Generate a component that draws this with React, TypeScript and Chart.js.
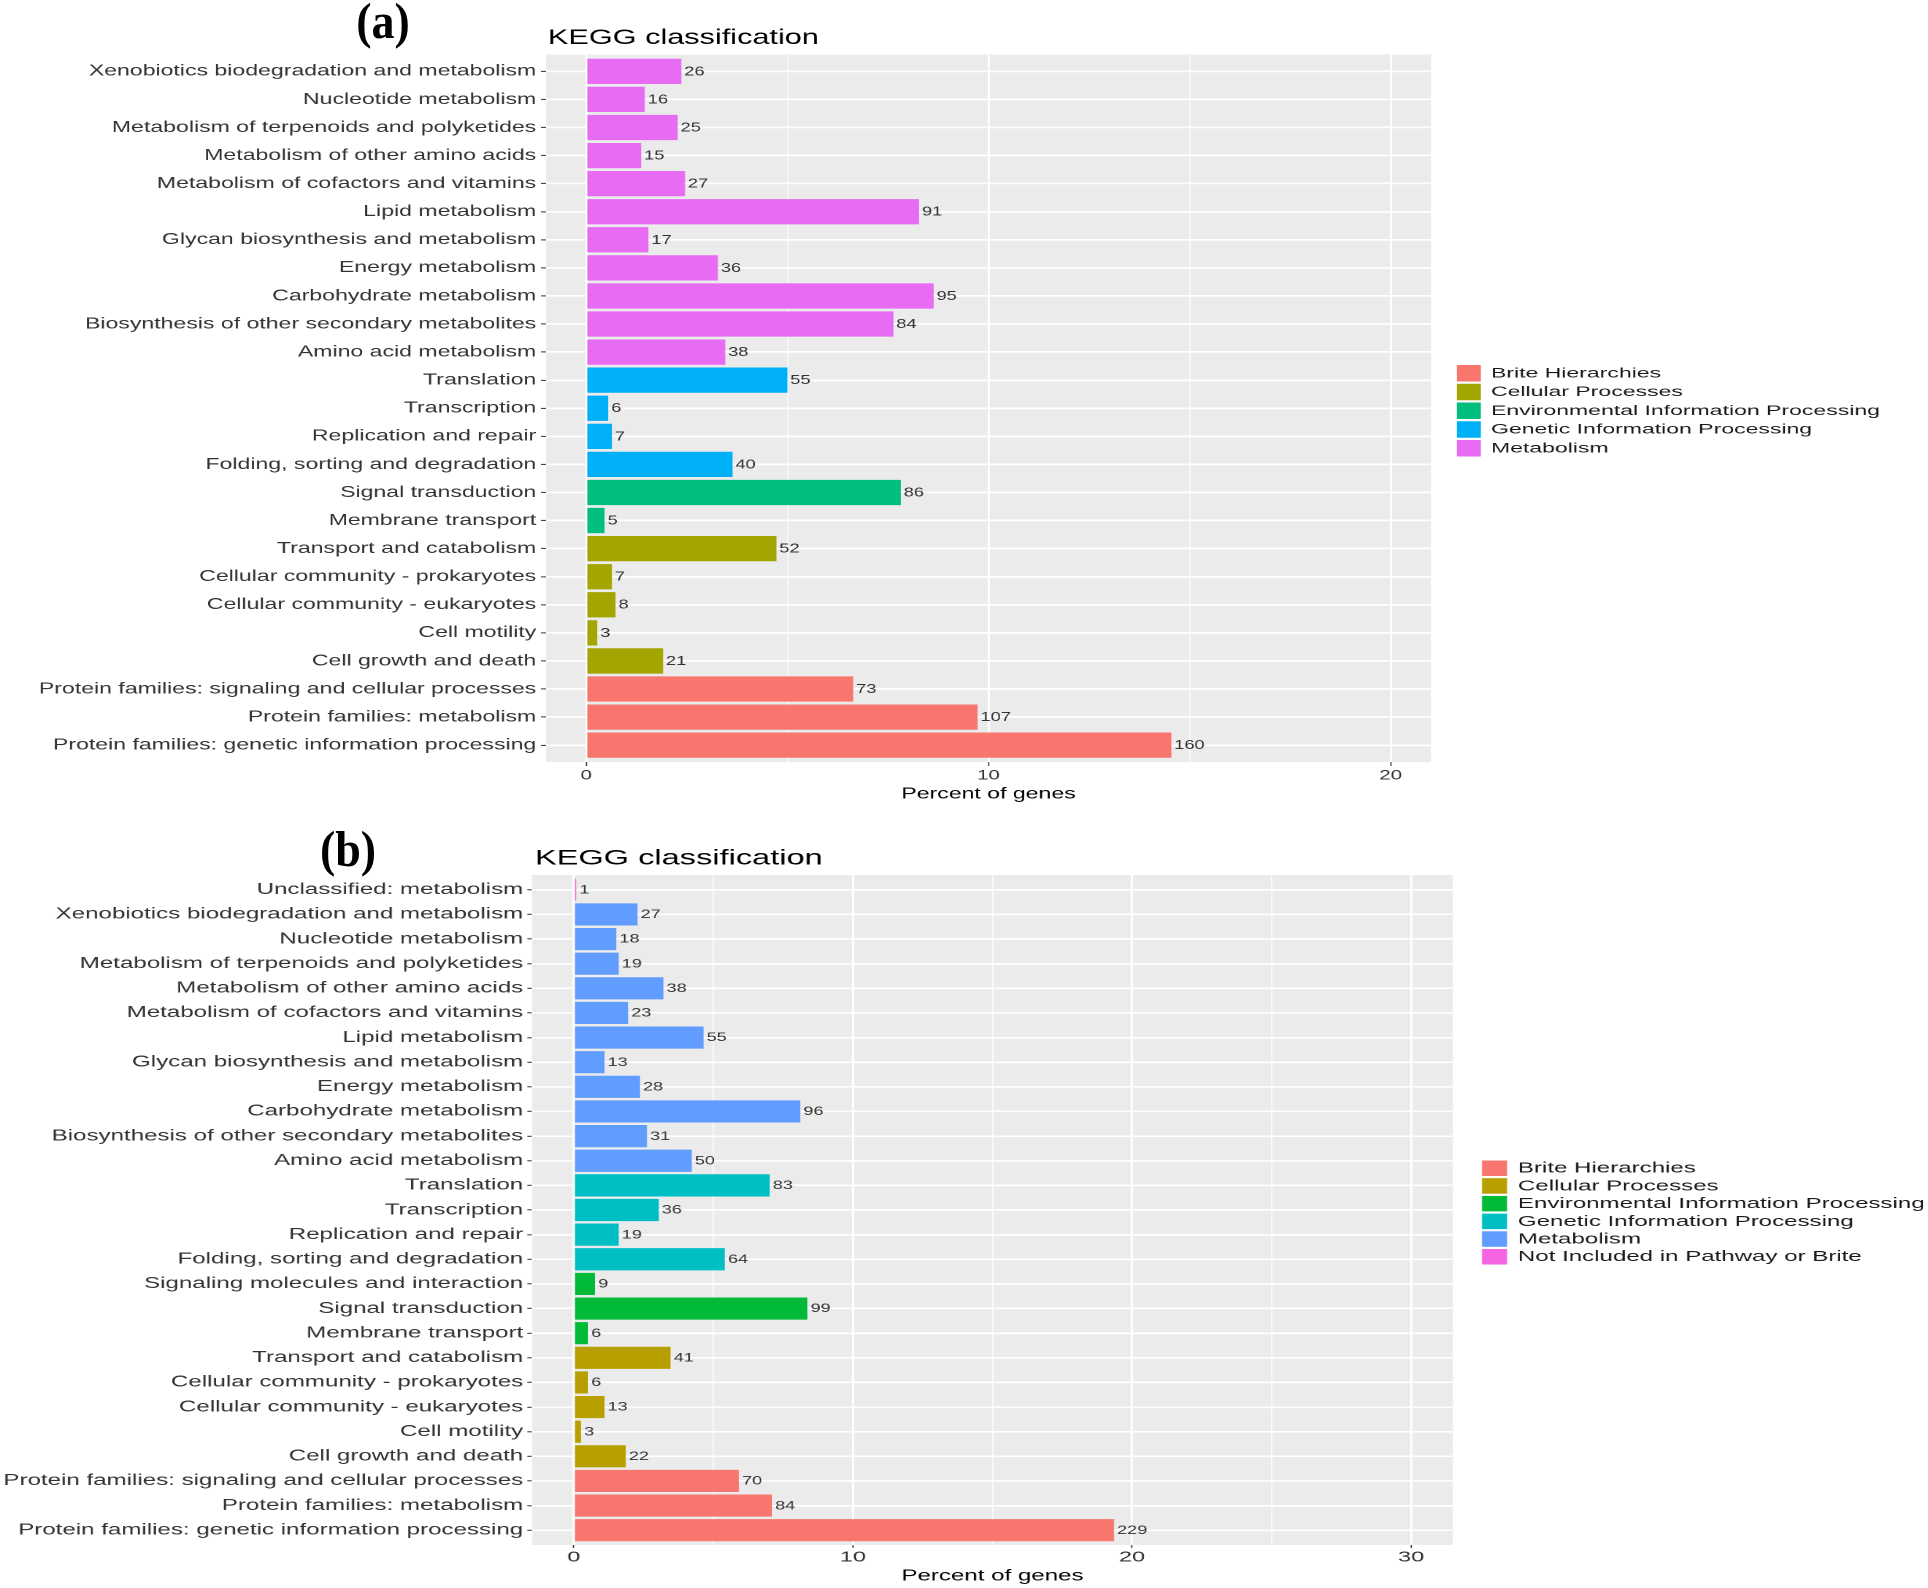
import React, { useEffect, useRef } from 'react';
import { Chart, registerables } from 'chart.js';

Chart.register(...registerables);

const FONT = '"Liberation Sans", Arial, Helvetica, sans-serif';

// ---------------- Panel (a) data ----------------
const categoriesA = [
  'Xenobiotics biodegradation and metabolism',
  'Nucleotide metabolism',
  'Metabolism of terpenoids and polyketides',
  'Metabolism of other amino acids',
  'Metabolism of cofactors and vitamins',
  'Lipid metabolism',
  'Glycan biosynthesis and metabolism',
  'Energy metabolism',
  'Carbohydrate metabolism',
  'Biosynthesis of other secondary metabolites',
  'Amino acid metabolism',
  'Translation',
  'Transcription',
  'Replication and repair',
  'Folding, sorting and degradation',
  'Signal transduction',
  'Membrane transport',
  'Transport and catabolism',
  'Cellular community - prokaryotes',
  'Cellular community - eukaryotes',
  'Cell motility',
  'Cell growth and death',
  'Protein families: signaling and cellular processes',
  'Protein families: metabolism',
  'Protein families: genetic information processing',
];
const countsA = [26, 16, 25, 15, 27, 91, 17, 36, 95, 84, 38, 55, 6, 7, 40, 86, 5, 52, 7, 8, 3, 21, 73, 107, 160];
const groupOfA = ['M', 'M', 'M', 'M', 'M', 'M', 'M', 'M', 'M', 'M', 'M', 'G', 'G', 'G', 'G', 'E', 'E', 'C', 'C', 'C', 'C', 'C', 'B', 'B', 'B'];
const groupKeysA = ['B', 'C', 'E', 'G', 'M'];
const groupNamesA = [
  'Brite Hierarchies',
  'Cellular Processes',
  'Environmental Information Processing',
  'Genetic Information Processing',
  'Metabolism',
];
const colorsA = ['#F8766D', '#A3A500', '#00BF7D', '#00B0F6', '#E76BF3'];
const xTickLabelsA = [0, 10, 20];

// ---------------- Panel (b) data ----------------
const categoriesB = [
  'Unclassified: metabolism',
  'Xenobiotics biodegradation and metabolism',
  'Nucleotide metabolism',
  'Metabolism of terpenoids and polyketides',
  'Metabolism of other amino acids',
  'Metabolism of cofactors and vitamins',
  'Lipid metabolism',
  'Glycan biosynthesis and metabolism',
  'Energy metabolism',
  'Carbohydrate metabolism',
  'Biosynthesis of other secondary metabolites',
  'Amino acid metabolism',
  'Translation',
  'Transcription',
  'Replication and repair',
  'Folding, sorting and degradation',
  'Signaling molecules and interaction',
  'Signal transduction',
  'Membrane transport',
  'Transport and catabolism',
  'Cellular community - prokaryotes',
  'Cellular community - eukaryotes',
  'Cell motility',
  'Cell growth and death',
  'Protein families: signaling and cellular processes',
  'Protein families: metabolism',
  'Protein families: genetic information processing',
];
const countsB = [1, 27, 18, 19, 38, 23, 55, 13, 28, 96, 31, 50, 83, 36, 19, 64, 9, 99, 6, 41, 6, 13, 3, 22, 70, 84, 229];
const groupOfB = ['N', 'M', 'M', 'M', 'M', 'M', 'M', 'M', 'M', 'M', 'M', 'M', 'G', 'G', 'G', 'G', 'E', 'E', 'E', 'C', 'C', 'C', 'C', 'C', 'B', 'B', 'B'];
const groupKeysB = ['B', 'C', 'E', 'G', 'M', 'N'];
const groupNamesB = [
  'Brite Hierarchies',
  'Cellular Processes',
  'Environmental Information Processing',
  'Genetic Information Processing',
  'Metabolism',
  'Not Included in Pathway or Brite',
];
const colorsB = ['#F8766D', '#B79F00', '#00BA38', '#00BFC4', '#619CFF', '#F564E3'];
const xTickLabelsB = [0, 10, 20, 30];

const TITLE = 'KEGG classification';
const X_TITLE = 'Percent of genes';

type PanelData = {
  categories: string[];
  counts: number[];
  groupOf: string[];
  groupKeys: string[];
  groupNames: string[];
  colors: string[];
  xTickLabels: number[];
};

type PanelLayout = {
  stretch: number;
  pageTop: number;
  width: number;
  height: number;
  areaLeft: number;
  areaTop: number;
  areaRight: number;
  areaBottom: number;
  xMin: number;
  xMax: number;
  yFont: number;
  yTickLen: number;
  yPad: number;
  gridY: number;
  xFont: number;
  xTickLen: number;
  xPad: number;
  xTitleFont: number;
  xTitlePadB: number;
  titleFont: number;
  titleDx: number;
  titleY: number;
  legendDx: number;
  swatchW: number;
  swatchH: number;
  legendTextDx: number;
  legendSpacing: number;
  legendDy: number;
  legendFont: number;
  legendStretch: number;
  valueFont: number;
  label: string;
  labelX: number;
  labelY: number;
};

const layoutA: PanelLayout = {
  stretch: 1.46,
  pageTop: 0,
  width: 1320,
  height: 810,
  areaLeft: 374,
  areaTop: 54.5,
  areaRight: 980.1,
  areaBottom: 762,
  xMin: -1,
  xMax: 21,
  yFont: 15.8,
  yTickLen: 3.5,
  yPad: 3.2,
  gridY: 1.8,
  xFont: 14,
  xTickLen: 4,
  xPad: 1,
  xTitleFont: 15.8,
  xTitlePadB: 6.5,
  titleFont: 21,
  titleDx: 1.3,
  titleY: 38,
  legendDx: 17.8,
  swatchW: 16.4,
  swatchH: 16.5,
  legendTextDx: 23.3,
  legendSpacing: 18.75,
  legendDy: 2.5,
  legendFont: 13.5,
  legendStretch: 1.168,
  valueFont: 12.5,
  label: '(a)',
  labelX: 383,
  labelY: 21,
};

const layoutB: PanelLayout = {
  stretch: 1.566,
  pageTop: 810,
  width: 1231,
  height: 778,
  areaLeft: 339.7,
  areaTop: 65,
  areaRight: 927.8,
  areaBottom: 735,
  xMin: -1.5,
  xMax: 31.5,
  yFont: 15.4,
  yTickLen: 3,
  yPad: 2.6,
  gridY: 1.6,
  xFont: 15,
  xTickLen: 3,
  xPad: 0.5,
  xTitleFont: 15.4,
  xTitlePadB: 2.6,
  titleFont: 20.8,
  titleDx: 1.9,
  titleY: 48.7,
  legendDx: 18.6,
  swatchW: 16,
  swatchH: 15.5,
  legendTextDx: 22.9,
  legendSpacing: 17.7,
  legendDy: 2.5,
  legendFont: 14.4,
  legendStretch: 1.068,
  valueFont: 11.5,
  label: '(b)',
  labelX: 348,
  labelY: 849,
};

function buildChart(canvas: HTMLCanvasElement, d: PanelData, L: PanelLayout) {
  const total = d.counts.reduce((s, v) => s + v, 0);
  const n = d.categories.length;

  const datasets = d.groupKeys.map((key, gi) => ({
    label: d.groupNames[gi],
    data: d.categories
      .map((_, i) => ({ x: (d.counts[i] / total) * 100, y: i, count: d.counts[i], g: d.groupOf[i] }))
      .filter((p) => p.g === key),
    backgroundColor: d.colors[gi],
    borderWidth: 0,
    grouped: false,
    barPercentage: 0.9,
    categoryPercentage: 1.0,
  }));

  const panelBg = {
    id: 'panelBg',
    beforeDraw(chart: any) {
      const { ctx, chartArea: a } = chart;
      ctx.save();
      ctx.fillStyle = '#FFFFFF';
      ctx.fillRect(0, 0, chart.width, chart.height);
      ctx.fillStyle = '#EBEBEB';
      ctx.fillRect(a.left, a.top, a.right - a.left, a.bottom - a.top);
      ctx.restore();
    },
  };

  const valueLabels = {
    id: 'valueLabels',
    afterDatasetsDraw(chart: any) {
      const { ctx } = chart;
      ctx.save();
      ctx.font = `${L.valueFont}px ${FONT}`;
      ctx.fillStyle = '#333333';
      ctx.textAlign = 'left';
      ctx.textBaseline = 'middle';
      chart.data.datasets.forEach((ds: any, di: number) => {
        const meta = chart.getDatasetMeta(di);
        meta.data.forEach((el: any, j: number) => {
          ctx.fillText(String(ds.data[j].count), el.x + 2, el.y + 0.5);
        });
      });
      ctx.restore();
    },
  };

  const titleAndLegend = {
    id: 'titleAndLegend',
    afterDraw(chart: any) {
      const { ctx, chartArea: a } = chart;
      ctx.save();
      ctx.fillStyle = '#000000';
      ctx.font = `${L.titleFont}px ${FONT}`;
      ctx.textAlign = 'left';
      ctx.textBaseline = 'middle';
      ctx.fillText(TITLE, a.left + L.titleDx, L.titleY);

      const items = chart.data.datasets;
      const cy = (a.top + a.bottom) / 2 + L.legendDy;
      const sx = a.right + L.legendDx;
      ctx.font = `${L.legendFont}px ${FONT}`;
      items.forEach((ds: any, i: number) => {
        const y = cy + (i - (items.length - 1) / 2) * L.legendSpacing;
        ctx.fillStyle = ds.backgroundColor;
        ctx.fillRect(sx, y - L.swatchH / 2, L.swatchW, L.swatchH);
        ctx.save();
        ctx.translate(sx + L.legendTextDx, y + 0.5);
        ctx.scale(L.legendStretch, 1);
        ctx.fillStyle = '#1a1a1a';
        ctx.fillText(ds.label, 0, 0);
        ctx.restore();
      });
      ctx.restore();
    },
  };

  return new Chart(canvas, {
    type: 'bar',
    data: { datasets } as any,
    plugins: [panelBg, valueLabels, titleAndLegend],
    options: {
      indexAxis: 'y',
      animation: false,
      responsive: false,
      devicePixelRatio: 2,
      events: [],
      layout: {
        padding: { left: 0, right: L.width - L.areaRight, top: L.areaTop, bottom: 0 },
      },
      plugins: {
        legend: { display: false },
        title: { display: false },
        tooltip: { enabled: false },
      },
      scales: {
        y: {
          type: 'linear',
          position: 'left',
          reverse: true,
          offset: false,
          min: -0.6,
          max: n - 1 + 0.6,
          afterFit: (s: any) => {
            s.width = L.areaLeft;
          },
          border: { display: false },
          grid: {
            offset: false,
            color: '#FFFFFF',
            lineWidth: L.gridY,
            drawTicks: true,
            tickLength: L.yTickLen,
            tickColor: '#333333',
            tickWidth: 1,
          },
          ticks: {
            stepSize: 1,
            includeBounds: false,
            autoSkip: false,
            padding: L.yPad,
            color: '#333333',
            font: { family: FONT, size: L.yFont },
            callback: (v: any) => d.categories[v] ?? '',
          },
        },
        x: {
          type: 'linear',
          position: 'bottom',
          offset: false,
          min: L.xMin,
          max: L.xMax,
          afterFit: (s: any) => {
            s.height = L.height - L.areaBottom;
          },
          border: { display: false },
          grid: {
            offset: false,
            color: '#FFFFFF',
            lineWidth: (c: any) => (c.tick && d.xTickLabels.includes(c.tick.value) ? 1.4 : 0.7),
            drawTicks: true,
            tickLength: L.xTickLen,
            tickColor: (c: any) => (c.tick && d.xTickLabels.includes(c.tick.value) ? '#333333' : 'rgba(0,0,0,0)'),
            tickWidth: 0.8,
          },
          ticks: {
            stepSize: 5,
            includeBounds: false,
            autoSkip: false,
            maxRotation: 0,
            padding: L.xPad,
            color: '#333333',
            font: { family: FONT, size: L.xFont },
            callback: (v: any) => (d.xTickLabels.includes(v) ? String(v) : ''),
          },
          title: {
            display: true,
            text: X_TITLE,
            color: '#000000',
            font: { family: FONT, size: L.xTitleFont },
            padding: { top: 0, bottom: L.xTitlePadB },
          },
        },
      },
    } as any,
  });
}

function Panel({ data, layout }: { data: PanelData; layout: PanelLayout }) {
  const ref = useRef<HTMLCanvasElement | null>(null);
  useEffect(() => {
    if (!ref.current) return;
    const chart = buildChart(ref.current, data, layout);
    return () => chart.destroy();
  }, [data, layout]);
  return (
    <>
      <div
        style={{
          position: 'absolute',
          left: 0,
          top: layout.pageTop,
          width: layout.width,
          height: layout.height,
          transform: `scaleX(${layout.stretch})`,
          transformOrigin: '0 0',
        }}
      >
        <canvas
          ref={ref}
          width={layout.width}
          height={layout.height}
          style={{ width: layout.width, height: layout.height, display: 'block' }}
        />
      </div>
      <div
        style={{
          position: 'absolute',
          left: layout.labelX,
          top: layout.labelY,
          transform: 'translate(-50%, -50%) scaleX(0.92)',
          fontFamily: '"Liberation Serif", "Times New Roman", serif',
          fontWeight: 'bold',
          fontSize: 50,
          lineHeight: 1,
          color: '#000',
          whiteSpace: 'nowrap',
        }}
      >
        {layout.label}
      </div>
    </>
  );
}

const dataA: PanelData = {
  categories: categoriesA,
  counts: countsA,
  groupOf: groupOfA,
  groupKeys: groupKeysA,
  groupNames: groupNamesA,
  colors: colorsA,
  xTickLabels: xTickLabelsA,
};

const dataB: PanelData = {
  categories: categoriesB,
  counts: countsB,
  groupOf: groupOfB,
  groupKeys: groupKeysB,
  groupNames: groupNamesB,
  colors: colorsB,
  xTickLabels: xTickLabelsB,
};

export default function App() {
  return (
    <div
      style={{
        position: 'absolute',
        left: 0,
        top: 0,
        width: 1928,
        height: 1588,
        overflow: 'hidden',
        background: '#FFFFFF',
      }}
    >
      <Panel data={dataA} layout={layoutA} />
      <Panel data={dataB} layout={layoutB} />
    </div>
  );
}
